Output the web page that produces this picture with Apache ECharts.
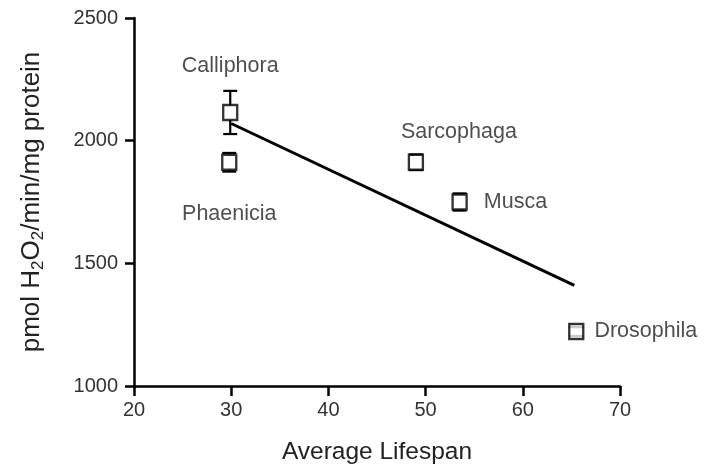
<!DOCTYPE html>
<html><head><meta charset="utf-8">
<script src="https://cdn.jsdelivr.net/npm/echarts@6/dist/echarts.min.js"></script>
<style>html,body{margin:0;padding:0;background:#fff}#c{width:704px;height:470px}</style>
</head><body><div id="c"></div>
<script>
const species = ['Calliphora','Phaenicia','Sarcophaga','Musca','Drosophila'];
const lifespan = [29.9, 29.8, 49.0, 53.5, 65.5];
const activity = [2115, 1912, 1912, 1750, 1222];
const errSD = [88, 38, 32, 35, 18];
const fitX = [30, 65.3];
const fitY = [2070, 1410];
const xTicks = [20, 30, 40, 50, 60, 70];
const yTicks = [1000, 1500, 2000, 2500];

const labelPos = {
  Calliphora: {position:'top', distance:27},
  Phaenicia: {position:'bottom', distance:32},
  Sarcophaga: {position:'top', distance:10, offset:[43,0]},
  Musca: {position:'right', distance:16},
  Drosophila: {position:'right', distance:10}
};
const font = 'Liberation Sans, Arial, sans-serif';
const markerH = 15;
const pts = species.map((s,i)=>({
  name:s, value:[lifespan[i], activity[i]],
  label:Object.assign({show:true, formatter:s, fontSize:21.5, color:'#222', fontFamily:font}, labelPos[s])
}));
const errData = species.map((s,i)=>[lifespan[i], activity[i]-errSD[i], activity[i]+errSD[i], activity[i]]);

const chart = echarts.init(document.getElementById('c'));
chart.setOption({
  animation:false,
  grid:{left:134, right:84, top:18, bottom:84},
  xAxis:{type:'value', min:xTicks[0], max:xTicks[xTicks.length-1], interval:10,
    axisLine:{lineStyle:{color:'#000', width:2.5}},
    axisTick:{show:true, length:10, lineStyle:{color:'#000', width:2.5}},
    axisLabel:{fontSize:20, color:'#333', fontFamily:font, margin:14},
    splitLine:{show:false},
    name:'Average Lifespan', nameLocation:'middle', nameGap:54,
    nameTextStyle:{fontSize:24.5, color:'#222', fontFamily:font}},
  yAxis:{type:'value', min:yTicks[0], max:yTicks[yTicks.length-1], interval:500,
    axisLine:{lineStyle:{color:'#000', width:2.5}},
    axisTick:{show:true, length:9, lineStyle:{color:'#000', width:2.5}},
    axisLabel:{fontSize:20, color:'#333', fontFamily:font, margin:16, formatter:v=>String(v)},
    splitLine:{show:false},
    name:'pmol H{sub|2}O{sub|2}/min/mg protein', nameLocation:'middle', nameGap:87, nameRotate:90,
    nameTextStyle:{fontSize:26, color:'#222', fontFamily:font,
      rich:{sub:{fontSize:17, color:'#222', fontFamily:font, verticalAlign:'bottom', padding:[13,0,0,0]}}}},
  series:[
    {type:'line', data:fitX.map((x,i)=>[x, fitY[i]]), symbol:'none', lineStyle:{color:'#000', width:3}, z:1},
    {type:'custom', z:2, data:errData, renderItem:function(params, api){
      const x = api.value(0);
      const lo = api.coord([x, api.value(1)]);
      const hi = api.coord([x, api.value(2)]);
      const c = api.coord([x, api.value(3)]);
      const h = markerH / 2;
      const w = 7;
      const st = {stroke:'#000', lineWidth:2.2};
      const kids = [];
      if (hi[1] < c[1] - h) kids.push({type:'line', shape:{x1:c[0], y1:c[1]-h, x2:hi[0], y2:hi[1]}, style:st});
      if (lo[1] > c[1] + h) kids.push({type:'line', shape:{x1:c[0], y1:c[1]+h, x2:lo[0], y2:lo[1]}, style:st});
      kids.push({type:'line', shape:{x1:lo[0]-w, y1:lo[1], x2:lo[0]+w, y2:lo[1]}, style:st});
      kids.push({type:'line', shape:{x1:hi[0]-w, y1:hi[1], x2:hi[0]+w, y2:hi[1]}, style:st});
      return {type:'group', children:kids};
    }},
    {type:'scatter', z:3, data:pts, symbol:'rect', symbolSize:[14,markerH],
      itemStyle:{color:'#fff', borderColor:'#000', borderWidth:2.4}}
  ]
});
</script></body></html>
